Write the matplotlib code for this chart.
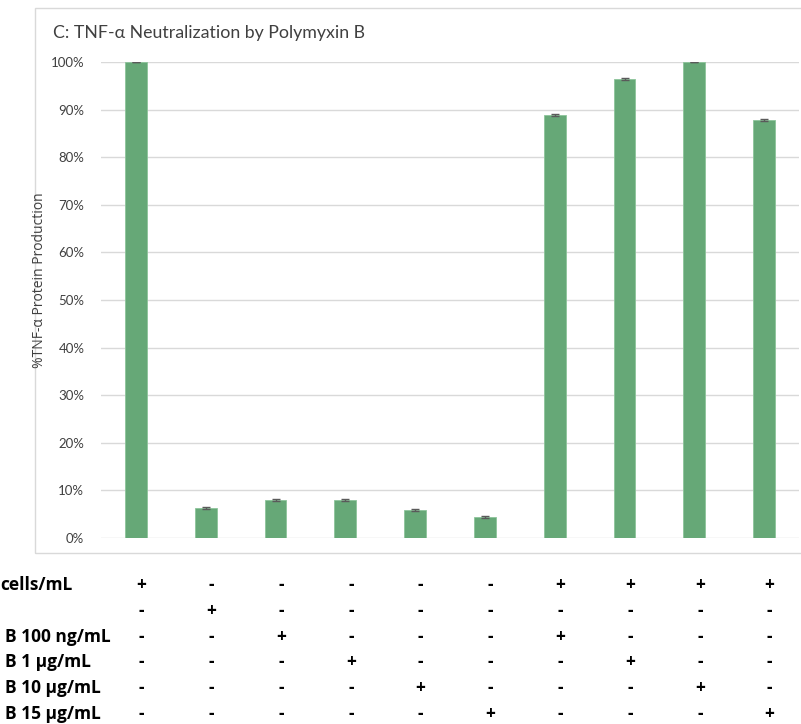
import numpy as np
import matplotlib.pyplot as plt
import matplotlib.transforms as mtransforms
from matplotlib.patches import Rectangle

plt.rcParams['font.family'] = ['Lato', 'DejaVu Sans']

# values (fraction of control)
tnf = [1.000, 0.063, 0.079, 0.079, 0.059, 0.044, 0.889, 0.964, 1.000, 0.878]
err = [0.001, 0.002, 0.002, 0.002, 0.002, 0.002, 0.002, 0.002, 0.000, 0.002]

row_labels = ['cells/mL', '', 'B 100 ng/mL', 'B 1 \u00b5g/mL', 'B 10 \u00b5g/mL', 'B 15 \u00b5g/mL']
signs = [
    '+-----++++',
    '-+--------',
    '--+---+---',
    '---+---+--',
    '----+---+-',
    '-----+---+',
]

W, H = 801, 724
fig = plt.figure(figsize=(W/100, H/100), dpi=100)

# chart border (Excel style), right side runs off the canvas
fig.patches.append(Rectangle((35/W, 1-553/H), (W+5-35)/W, (553-8)/H,
                             transform=fig.transFigure, fill=False,
                             ec='#d9d9d9', lw=1))

ax = fig.add_axes([101/W, 1-538/H, (799-101)/W, (538-62)/H])
x = np.arange(len(tnf))
ax.bar(x, tnf, width=0.31, color='#66a877', edgecolor='#8cc49a', lw=0.6, zorder=3)
ax.errorbar(x, tnf, yerr=err, fmt='none', ecolor='#5a5a5a', elinewidth=1,
            capsize=3.2, capthick=1, zorder=4)

ax.set_xlim(-0.5, len(tnf)-0.5)
ax.set_ylim(0, 1.0)
ax.set_yticks(np.arange(0, 1.01, 0.1))
ax.set_yticklabels(['%d%%' % v for v in range(0, 101, 10)], fontsize=9.5, color='#404040')
ax.set_xticks([])
ax.yaxis.grid(True, color='#d9d9d9', lw=1, zorder=0)
ax.tick_params(axis='y', length=0, pad=12)
for s in ax.spines.values():
    s.set_visible(False)

fig.text(53/W, 1-33/H, 'C: TNF-\u03b1 Neutralization by Polymyxin B',
         fontsize=12.8, color='#404040', va='center', ha='left')
fig.text(40/W, 1-280/H, '%TNF-\u03b1 Protein Production', rotation=90,
         family=['Open Sans', 'DejaVu Sans'],
         fontsize=10, color='#404040', va='center', ha='center')

# treatment table under the chart
row_y = [585, 611, 637, 662, 688, 714]
tab_font = ['Open Sans', 'DejaVu Sans']
trans = mtransforms.blended_transform_factory(ax.transData, fig.transFigure)
for r, (lab, row) in enumerate(zip(row_labels, signs)):
    yy = 1 - row_y[r]/H
    fig.text((0 if r == 0 else 5)/W, yy, lab, fontsize=12.5, fontweight='bold',
             family=tab_font, va='center', ha='left', color='black')
    for i, c in enumerate(row):
        ax.text(x[i] + 0.08, yy, c, transform=trans, fontsize=12.5, fontweight='bold',
                family=tab_font, va='center', ha='center', color='black', clip_on=False)

fig.savefig('out.png', dpi=100)
